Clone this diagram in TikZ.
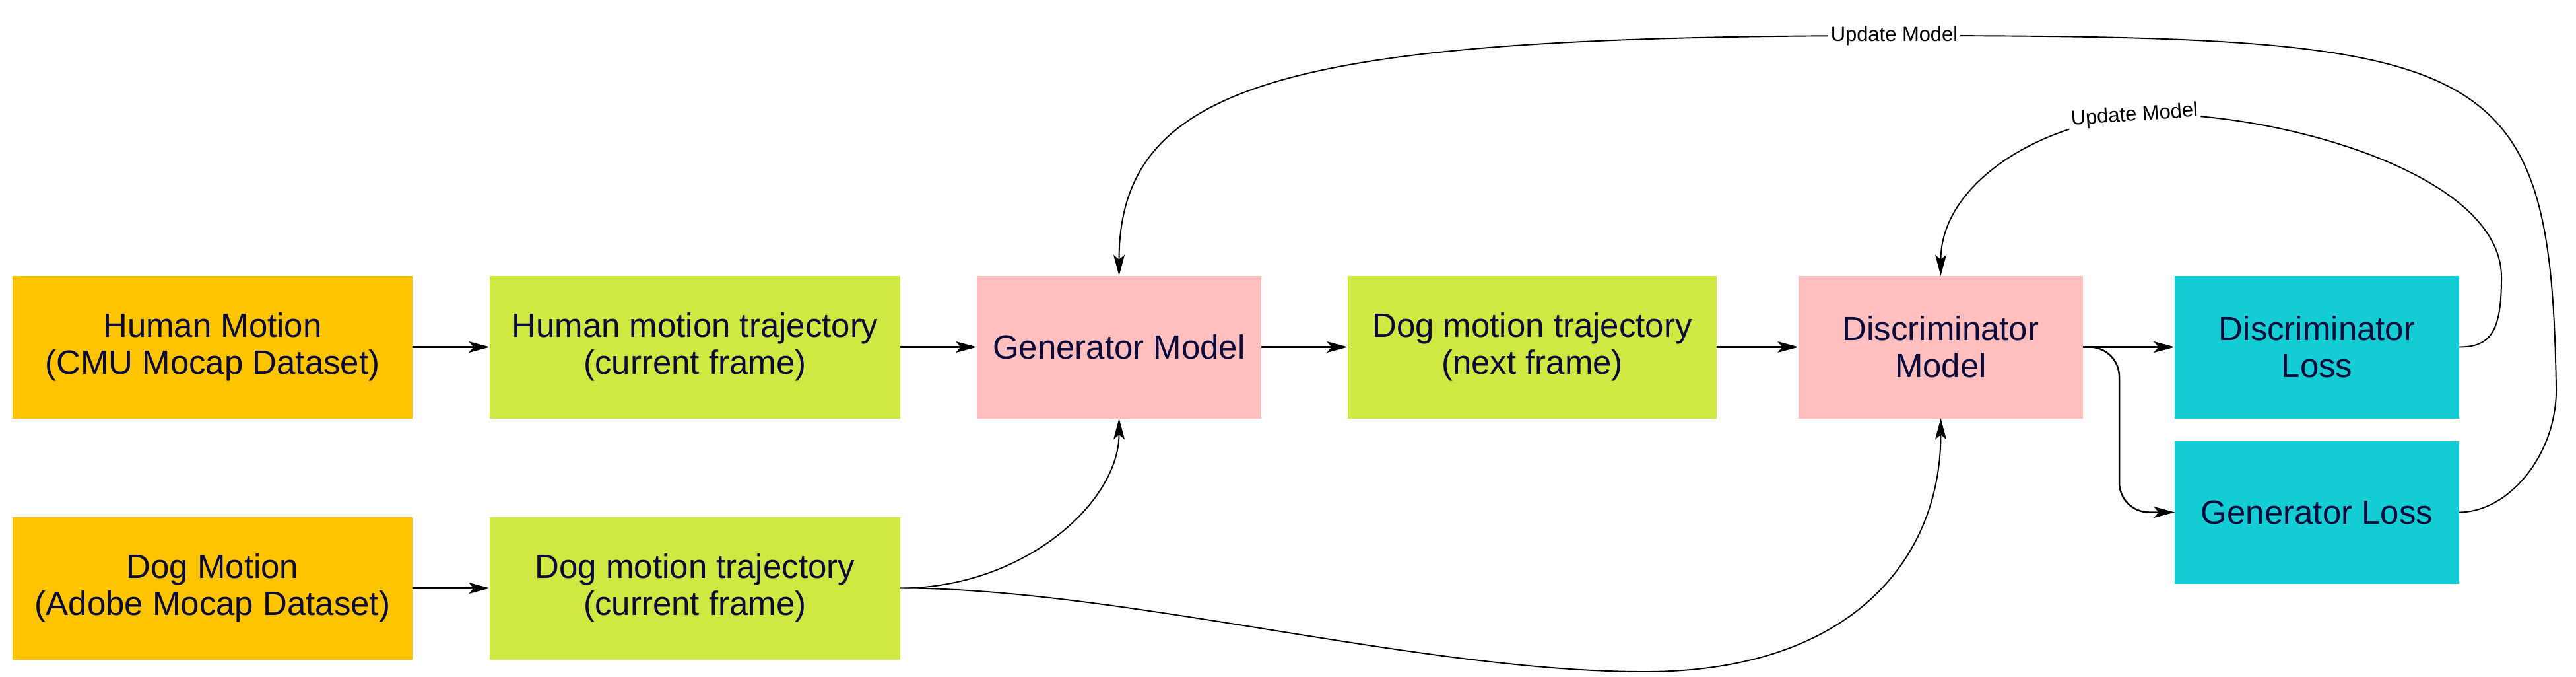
\documentclass[tikz,border=0pt]{standalone}
\usepackage{fontspec}
\setmainfont{Liberation Sans}
\usetikzlibrary{arrows.meta,positioning}

\definecolor{srcfill}{HTML}{FFC400}
\definecolor{trajfill}{HTML}{D0E842}
\definecolor{modelfill}{HTML}{FFBFBF}
\definecolor{lossfill}{HTML}{14CDD4}
\definecolor{inktext}{HTML}{0B0B3B}

\begin{document}
\begin{tikzpicture}[
    box/.style={rectangle, inner sep=0pt, outer sep=0pt, minimum height=2.16cm, align=center, text=inktext, font=\fontsize{14.5}{16}\selectfont},
    source/.style={box, fill=srcfill, minimum width=6.06cm},
    traj/.style={box, fill=trajfill, minimum width=6.22cm},
    model/.style={box, fill=modelfill, minimum width=4.31cm},
    loss/.style={box, fill=lossfill, minimum width=4.31cm},
    arrow/.style={-{Stealth[length=9pt, width=4.8pt, inset=2pt]}, line width=0.7pt},
    loop/.style={arrow, line width=0.55pt},
    upd/.style={fill=white, inner sep=1pt, font=\fontsize{8.8}{10}\selectfont}
]
    \useasboundingbox (0,0) rectangle (39.03,-10.24);

    % Inputs
    \node[source] (human) at (3.22,-5.255) {Human Motion\\(CMU Mocap Dataset)};
    \node[traj, right=1.17cm of human] (htraj) {Human motion trajectory\\(current frame)};
    \node[source, below=1.49cm of human] (dog) {Dog Motion\\(Adobe Mocap Dataset)};
    \node[traj, below=1.49cm of htraj] (dtraj) {Dog motion trajectory\\(current frame)};

    % Models
    \node[model, right=1.16cm of htraj] (gen) {Generator Model};
    \node[traj, minimum width=5.59cm, right=1.31cm of gen] (ntraj) {Dog motion trajectory\\(next frame)};
    \node[model, right=1.24cm of ntraj] (disc) {Discriminator\\Model};

    % Losses
    \node[loss, right=1.39cm of disc] (dloss) {Discriminator\\Loss};
    \node[loss, below=0.34cm of dloss] (gloss) {Generator Loss};

    % Arrows - main flow
    \draw[arrow] (human) -- (htraj);
    \draw[arrow] (htraj) -- (gen);
    \draw[arrow] (dog) -- (dtraj);
    \draw[arrow] (gen) -- (ntraj);
    \draw[arrow] (ntraj) -- (disc);
    \draw[arrow] (disc) -- (dloss);
    \draw[arrow, rounded corners=0.45cm] (disc.east) -- ++(0.55,0) |- (gloss.west);

    % Dog trajectory into both models
    \draw[loop] (dtraj.east) .. controls +(1.87,0) and +(0,-1.27) .. (gen.south);
    \draw[loop] (dtraj.east) .. controls +(3.37,0) and +(-3.42,0) .. (24.92,-10.17)
        .. controls +(3.08,0) and +(0,-2.17) .. (disc.south);

    % Feedback loops
    \draw[loop] (gloss.east) .. controls +(0.74,0) and +(0,-1.0) .. (38.73,-5.90)
        .. controls +(-0.08,5.10) and +(9.10,0) .. (28.70,-0.54) node[upd] {Update Model}
        .. controls +(-9.0,0) and +(0,3.0) .. (gen.north);
    \draw[loop] (dloss.east) .. controls +(0.49,0) and +(0,-0.8) .. (37.90,-4.20)
        .. controls +(0,1.70) and +(1.66,0.15) .. (32.34,-1.75) node[upd, rotate=4] {Update Model}
        .. controls +(-1.50,-0.14) and +(0,1.37) .. (disc.north);
\end{tikzpicture}
\end{document}
